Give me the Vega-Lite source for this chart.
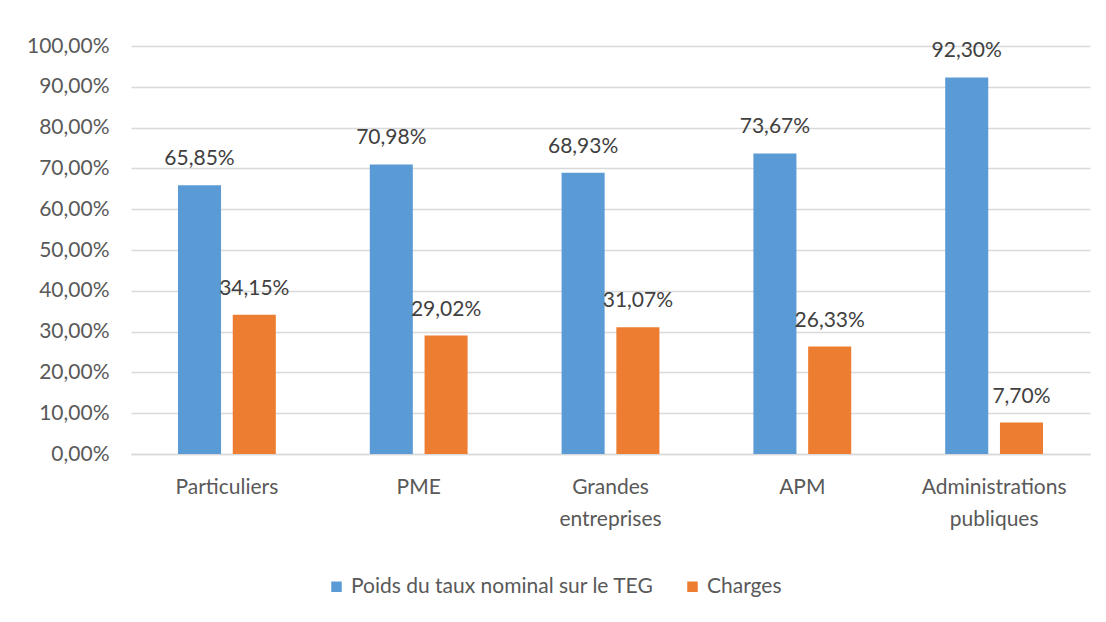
{
  "$schema": "https://vega.github.io/schema/vega-lite/v6.json",
  "width": 959,
  "height": 408,
  "padding": {"left": 26, "top": 35, "right": 16, "bottom": 10},
  "background": "white",
  "config": {
    "locale": {"number": {"decimal": ",", "thousands": " ", "grouping": [3], "currency": ["", " €"]}},
    "view": {"stroke": null},
    "font": "Lato"
  },
  "data": {
    "values": [
      {"categorie": "Particuliers", "serie": "Poids du taux nominal sur le TEG", "valeur": 0.6585},
      {"categorie": "Particuliers", "serie": "Charges", "valeur": 0.3415},
      {"categorie": "PME", "serie": "Poids du taux nominal sur le TEG", "valeur": 0.7098},
      {"categorie": "PME", "serie": "Charges", "valeur": 0.2902},
      {"categorie": "Grandes entreprises", "serie": "Poids du taux nominal sur le TEG", "valeur": 0.6893},
      {"categorie": "Grandes entreprises", "serie": "Charges", "valeur": 0.3107},
      {"categorie": "APM", "serie": "Poids du taux nominal sur le TEG", "valeur": 0.7367},
      {"categorie": "APM", "serie": "Charges", "valeur": 0.2633},
      {"categorie": "Administrations publiques", "serie": "Poids du taux nominal sur le TEG", "valeur": 0.923},
      {"categorie": "Administrations publiques", "serie": "Charges", "valeur": 0.077}
    ]
  },
  "encoding": {
    "x": {
      "field": "categorie",
      "type": "nominal",
      "sort": null,
      "scale": {"paddingInner": 0.49, "paddingOuter": 0.245},
      "axis": {
        "title": null,
        "labelAngle": 0,
        "labelExpr": "split(datum.label, ' ')",
        "labelFontSize": 21,
        "labelColor": "#595959",
        "ticks": false,
        "domainColor": "#d9d9d9",
        "domainWidth": 1.5,
        "labelPadding": 22,
        "labelLineHeight": 32
      }
    },
    "xOffset": {
      "field": "serie",
      "sort": ["Poids du taux nominal sur le TEG", "Charges"],
      "scale": {"paddingInner": 0.214}
    },
    "y": {
      "field": "valeur",
      "type": "quantitative",
      "scale": {"domain": [0, 1]},
      "axis": {
        "title": null,
        "format": ".2%",
        "values": [0, 0.1, 0.2, 0.3, 0.4, 0.5, 0.6, 0.7, 0.8, 0.9, 1],
        "gridColor": "#d9d9d9",
        "gridWidth": 1.5,
        "domain": false,
        "ticks": false,
        "labelPadding": 22,
        "labelFontSize": 21,
        "labelColor": "#595959"
      }
    },
    "color": {
      "field": "serie",
      "type": "nominal",
      "sort": ["Poids du taux nominal sur le TEG", "Charges"],
      "scale": {"range": ["#5B9BD5", "#ED7D31"]},
      "legend": {
        "title": null,
        "orient": "none",
        "legendX": 195,
        "legendY": 530,
        "direction": "horizontal",
        "symbolType": "square",
        "symbolSize": 110,
        "symbolStrokeWidth": 0,
        "labelFontSize": 21,
        "labelColor": "#595959",
        "labelOffset": 4,
        "labelLimit": 0,
        "columnPadding": 28
      }
    }
  },
  "layer": [
    {"mark": {"type": "bar"}},
    {
      "mark": {"type": "text", "baseline": "alphabetic", "dy": -20, "fontSize": 21, "color": "#404040"},
      "encoding": {
        "text": {"field": "valeur", "type": "quantitative", "format": ".2%"},
        "color": {"value": "#404040"}
      }
    }
  ]
}
